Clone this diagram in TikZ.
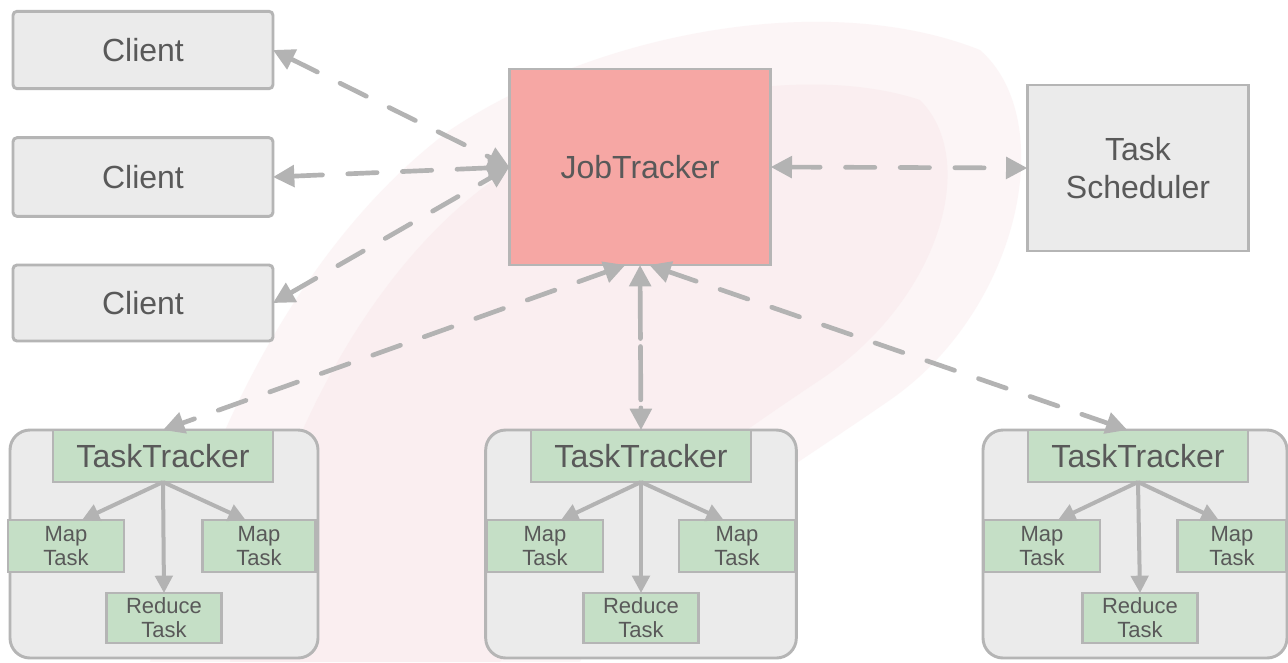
\documentclass[tikz,border=0pt]{standalone}
\usepackage{fontspec}
\setmainfont{Liberation Sans}
\usetikzlibrary{arrows.meta,positioning}
\definecolor{boxgray}{HTML}{EBEBEB}
\definecolor{linegray}{HTML}{B5B5B5}
\definecolor{arrowgray}{HTML}{B3B3B3}
\definecolor{jobred}{HTML}{F6A7A4}
\definecolor{taskgreen}{HTML}{C5DFC6}
\definecolor{textgray}{HTML}{595959}
\definecolor{blobpink}{HTML}{F8E4E7}

\begin{document}
\begin{tikzpicture}[x=0.75pt,y=-0.75pt,
  box/.style={draw=linegray, line width=2.2pt, fill=boxgray, text=textgray,
              inner sep=0pt, outer sep=0pt, align=center},
  bigtext/.style={font=\fontsize{24}{28}\selectfont},
  smalltext/.style={font=\fontsize{16.5}{18}\selectfont},
  tracker/.style={box, fill=taskgreen, bigtext, minimum width=165pt, minimum height=39pt},
  maptask/.style={box, fill=taskgreen, smalltext, minimum width=87pt, minimum height=39pt},
  redtask/.style={box, fill=taskgreen, smalltext, minimum width=86pt, minimum height=37.5pt},
  worker/.style={box, rounded corners=15pt, minimum height=171pt},
  link/.style={draw=arrowgray, line width=3.5pt, line cap=round,
               dash pattern=on 22pt off 19pt,
               {Triangle[length=16pt,width=16pt]}-{Triangle[length=16pt,width=16pt]}},
  sub/.style={draw=arrowgray, line width=3pt, -{Triangle[length=13pt,width=13pt]}}]
  \useasboundingbox (0,0) rectangle (1288,662);
  \fill[white] (0,0) rectangle (1288,662);
  % faint background
  \fill[blobpink, opacity=0.35] (150,662) .. controls (190,470) and (290,250) .. (450,130)
    .. controls (600,30) and (830,-10) .. (980,50)
    .. controls (1060,120) and (1020,310) .. (890,400)
    .. controls (760,490) and (620,570) .. (580,662) -- cycle;
  \fill[blobpink, opacity=0.4] (230,662) .. controls (260,500) and (340,300) .. (480,190)
    .. controls (600,100) and (800,60) .. (920,100)
    .. controls (980,160) and (940,300) .. (820,380)
    .. controls (700,460) and (560,560) .. (500,662) -- cycle;

  % Clients
  \node[box, bigtext, rounded corners=3pt, minimum width=195pt, minimum height=58pt]
    (cl1) at (143,50) {Client};
  \node[box, bigtext, rounded corners=3pt, minimum width=195pt, minimum height=59pt]
    (cl2) at (143,177) {Client};
  \node[box, bigtext, rounded corners=3pt, minimum width=195pt, minimum height=57pt]
    (cl3) at (143,303) {Client};

  % JobTracker and scheduler
  \node[box, bigtext, fill=jobred, minimum width=196pt, minimum height=147pt]
    (jt) at (640,167) {JobTracker};
  \node[box, bigtext, minimum width=166pt, minimum height=124.5pt]
    (ts) at (1138,168) {Task\\[1pt]Scheduler};

  % Worker nodes
  \node[worker, minimum width=231pt] (wkA) at (164,544) {};
  \node[worker, minimum width=233pt] (wkB) at (641,544) {};
  \node[worker, minimum width=228pt] (wkC) at (1135,544) {};

  \node[tracker] (ttA) at (163,456) {TaskTracker};
  \node[tracker] (ttB) at (641,456) {TaskTracker};
  \node[tracker] (ttC) at (1138,456) {TaskTracker};

  \node[maptask] (mapA1) at (66,546) {Map\\Task};
  \node[maptask, minimum width=85pt] (mapA2) at (259,546) {Map\\Task};
  \node[redtask] (redA) at (164,618) {Reduce\\Task};

  \node[maptask] (mapB1) at (545,546) {Map\\Task};
  \node[maptask] (mapB2) at (737,546) {Map\\Task};
  \node[redtask] (redB) at (641,618) {Reduce\\Task};

  \node[maptask] (mapC1) at (1042,546) {Map\\Task};
  \node[maptask, minimum width=82pt] (mapC2) at (1232,546) {Map\\Task};
  \node[redtask] (redC) at (1140,618) {Reduce\\Task};

  % connections to the JobTracker
  \draw[link] (cl1.east) -- (jt.west);
  \draw[link] (cl2.east) -- (jt.west);
  \draw[link] (cl3.east) -- (jt.west);
  \draw[link] (jt.east) -- (ts.west);
  \draw[link] ([xshift=-11pt]jt.south) -- (ttA.north);
  \draw[link, dash pattern=on 40pt off 6pt] (jt.south) -- (ttB.north);
  \draw[link] ([xshift=7pt]jt.south) -- ([xshift=-8pt]ttC.north);

  % tasks
  \foreach \w in {A,B,C} {
    \draw[sub] (tt\w.south) -- ([xshift=12pt]map\w1.north);
    \draw[sub] (tt\w.south) -- ([xshift=-10pt]map\w2.north);
    \draw[sub] (tt\w.south) -- (red\w.north);
  }
\end{tikzpicture}
\end{document}
